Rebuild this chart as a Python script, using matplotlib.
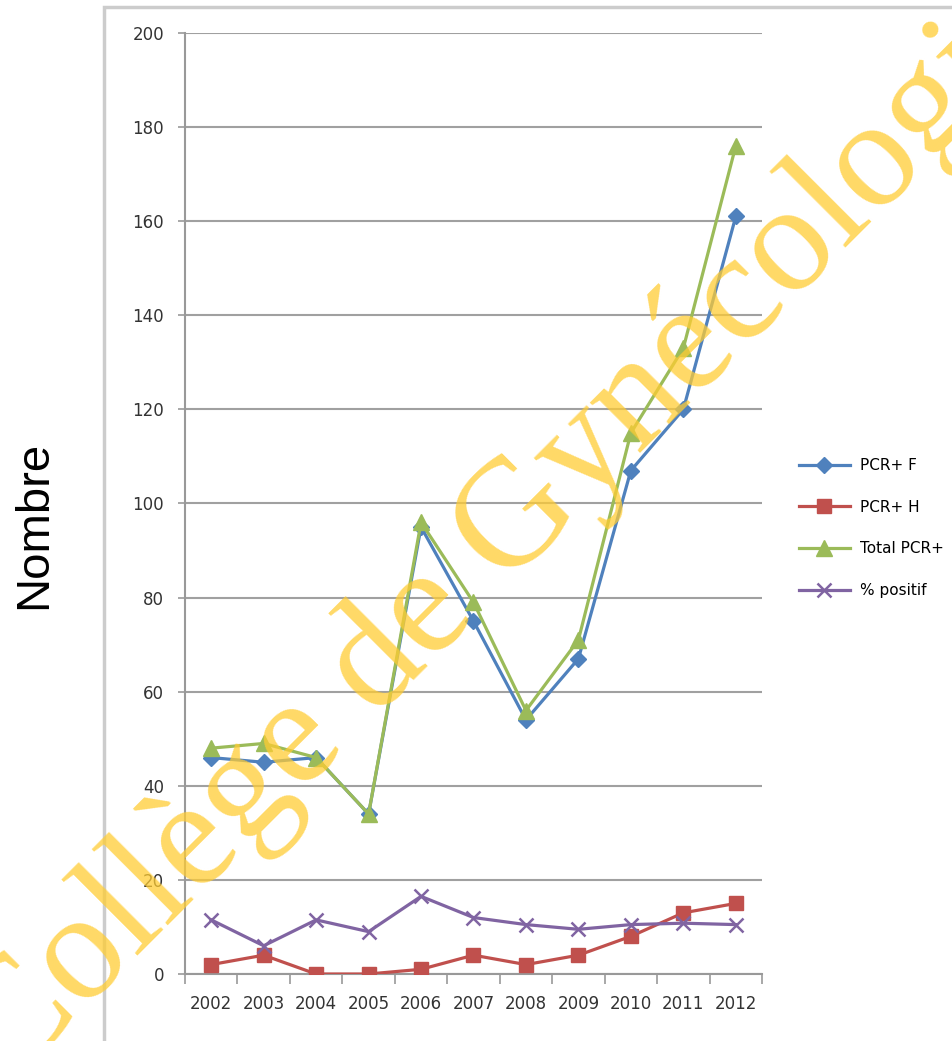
import matplotlib
matplotlib.use("Agg")
import matplotlib.pyplot as plt
from matplotlib.patches import Rectangle

years = ["2002", "2003", "2004", "2005", "2006", "2007", "2008", "2009", "2010", "2011", "2012"]
pcr_f = [46, 45, 46, 34, 95, 75, 54, 67, 107, 120, 161]
pcr_h = [2, 4, 0, 0, 1, 4, 2, 4, 8, 13, 15]
total_pcr = [48, 49, 46, 34, 96, 79, 56, 71, 115, 133, 176]
pct_positif = [11.5, 6, 11.5, 9, 16.5, 12, 10.5, 9.5, 10.5, 10.8, 10.5]
yticks = list(range(0, 201, 20))

W, H = 953, 1041
fig = plt.figure(figsize=(W / 100, H / 100), dpi=100)
ax = fig.add_axes([185 / W, (H - 974) / H, (762 - 185) / W, (974 - 33) / H])

# cadre gris autour du graphique
fig.patches.append(Rectangle((104 / W, -0.1), 1.0, (H - 7) / H + 0.1, transform=fig.transFigure,
                             fill=False, edgecolor="#cccccc", linewidth=2.5, zorder=0))

x = list(range(len(years)))
ax.plot(x, pcr_f, color="#4F81BD", marker="D", markersize=8.5, linewidth=2.3, label="PCR+ F", zorder=3)
ax.plot(x, pcr_h, color="#C0504D", marker="s", markersize=10, linewidth=2.3, label="PCR+ H", zorder=3)
ax.plot(x, total_pcr, color="#9BBB59", marker="^", markersize=11, linewidth=2.3, label="Total PCR+", zorder=4)
ax.plot(x, pct_positif, color="#8064A2", marker="x", markersize=10, markeredgewidth=1.8, linewidth=2.3,
        label="% positif", zorder=3)

ax.set_xlim(-0.5, len(years) - 0.5)
ax.set_ylim(0, 200)
ax.set_yticks(yticks)
ax.set_xticks(x)
ax.set_xticklabels(years)
ax.set_xticks([i - 0.5 for i in range(len(years) + 1)], minor=True)
ax.tick_params(axis="x", which="major", length=0, pad=15, labelsize=12, labelcolor="#333333")
ax.tick_params(axis="x", which="minor", length=7, width=1.2, color="#999999", direction="out")
ax.tick_params(axis="y", length=5, width=1.2, color="#999999", labelsize=12, labelcolor="#333333", pad=10)

ax.grid(axis="y", color="#a0a0a0", linewidth=1.5)
ax.set_axisbelow(True)
for side in ["top", "right"]:
    ax.spines[side].set_visible(False)
ax.spines["left"].set_color("#999999")
ax.spines["left"].set_linewidth(1.5)
ax.spines["bottom"].set_color("#999999")
ax.spines["bottom"].set_linewidth(1.5)

fig.text(34 / W, 1 - 525 / H, "Nombre", rotation=90, fontsize=34, family="Liberation Sans",
         ha="center", va="center", color="black")

fig.legend(loc="center left", bbox_to_anchor=(793 / W, 1 - 528 / H), frameon=False, fontsize=11,
           handlelength=3.3, labelspacing=1.75, handletextpad=0.7, borderaxespad=0)

# filigrane
fig.text(509 / W, 1 - 532 / H, "Collège de Gynécologie", rotation=45, rotation_mode="anchor",
         ha="center", va="center", fontsize=111, family="Liberation Serif",
         color="#FFCC33", alpha=0.75, zorder=10)

fig.savefig("out.png", dpi=100)
